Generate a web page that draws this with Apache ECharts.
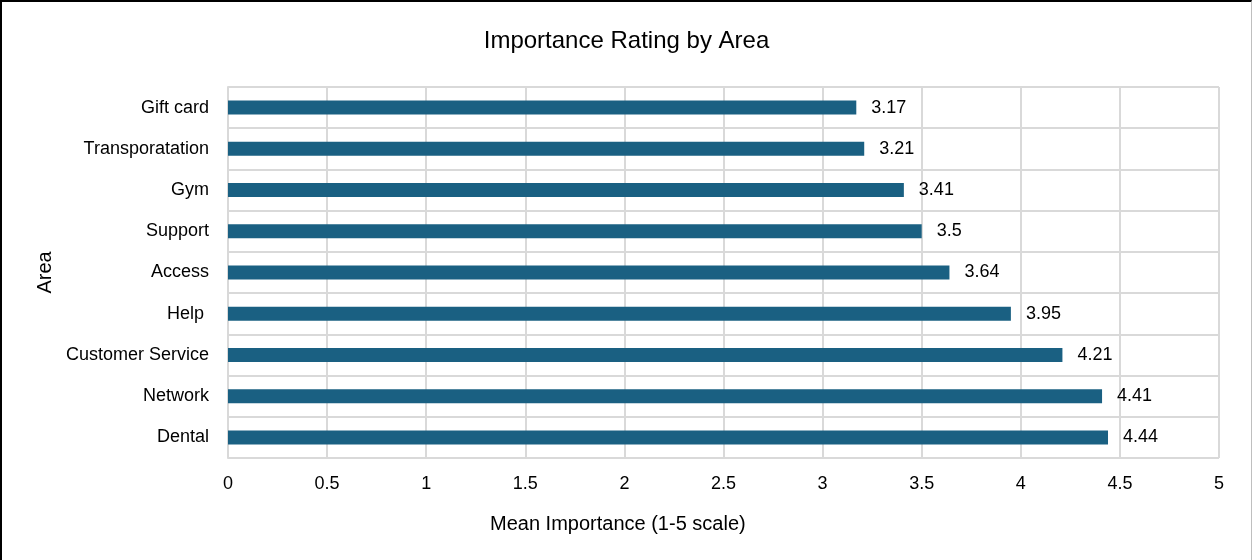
<!DOCTYPE html>
<html>
<head>
<meta charset="utf-8">
<script src="https://cdn.jsdelivr.net/npm/echarts@6/dist/echarts.min.js"></script>
<style>
    html, body { margin: 0; padding: 0; background: #fff; }
    #chart {
        width: 1252px; height: 560px; box-sizing: border-box;
        border-left: 2px solid #000; border-top: 2px solid #000; border-right: 1px solid #bfbfbf;
    }
</style>
</head>
<body>
<div id="chart"></div>
<script>
var areas = ['Gift card', 'Transporatation', 'Gym', 'Support', 'Access', 'Help ', 'Customer Service', 'Network', 'Dental'];
var meanValues = [3.17, 3.21, 3.41, 3.5, 3.64, 3.95, 4.21, 4.41, 4.44];
var xTicks = [0, 0.5, 1, 1.5, 2, 2.5, 3, 3.5, 4, 4.5, 5];

var font = '"Liberation Sans Narrow", "Arial Narrow", "Liberation Sans", Arial, sans-serif';

var chart = echarts.init(document.getElementById('chart'));

var option = {
    animation: false,
    textStyle: { fontFamily: font },
    title: {
        text: 'Importance Rating by Area',
        left: 'center',
        top: 22,
        textStyle: { fontFamily: font, fontSize: 24, fontWeight: 'normal', color: '#000' }
    },
    grid: { left: 226, right: 32, top: 85, bottom: 102 },
    xAxis: {
        type: 'value',
        min: 0,
        max: 5,
        interval: 0.5,
        axisLine: { show: false },
        axisTick: { show: false },
        splitLine: { lineStyle: { color: '#d9d9d9', width: 2 } },
        axisLabel: {
            margin: 17, fontSize: 18, color: '#000', fontFamily: font,
            formatter: function (v) { return xTicks.indexOf(v) >= 0 ? String(v) : ''; }
        }
    },
    yAxis: {
        type: 'category',
        inverse: true,
        data: areas,
        name: 'Area',
        nameLocation: 'middle',
        nameGap: 167,
        nameRotate: 90,
        nameTextStyle: { fontSize: 20, color: '#000', fontFamily: font },
        axisLine: { show: true, lineStyle: { color: '#d9d9d9', width: 2 } },
        axisTick: { show: false },
        splitLine: { show: true, lineStyle: { color: '#d9d9d9', width: 2 } },
        axisLabel: { margin: 19, fontSize: 18, color: '#000', fontFamily: font }
    },
    series: [{
        type: 'bar',
        data: meanValues,
        barWidth: 14,
        itemStyle: { color: '#1a6082' },
        label: {
            show: true,
            position: 'right',
            distance: 15,
            fontSize: 18,
            color: '#000',
            fontFamily: font
        }
    }],
    graphic: [{
        type: 'text',
        left: 488,
        top: 512,
        style: {
            text: 'Mean Importance (1-5 scale)',
            font: '20px ' + font,
            fill: '#000'
        }
    }]
};

chart.setOption(option);
</script>
</body>
</html>
